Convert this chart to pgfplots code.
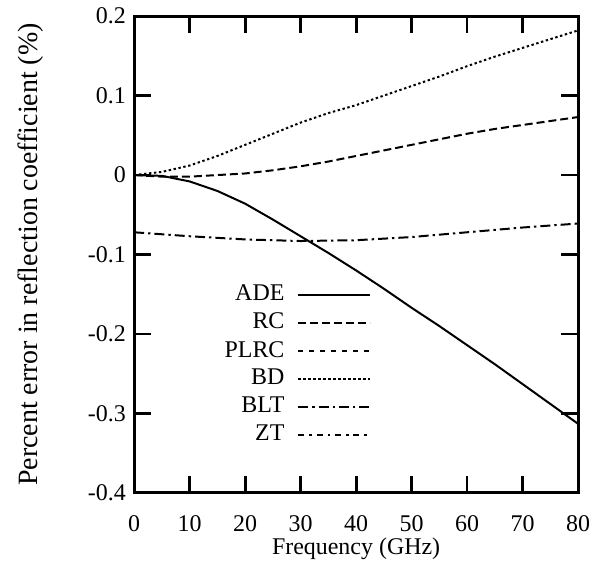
\documentclass[border=0pt]{standalone}
\usepackage{fontspec}
\setmainfont{Liberation Serif}
\newfontfamily\tnr{Liberation Serif}
\usepackage{pgfplots}
\pgfplotsset{compat=1.18}

\begin{document}
\tnr\fontsize{12}{14.4}\selectfont
\begin{tikzpicture}
\begin{axis}[
  scale only axis,
  width=222.5pt,
  height=239pt,
  xmin=0, xmax=80,
  ymin=-0.4, ymax=0.2,
  xtick={0,10,...,80},
  ytick={-0.4,-0.3,-0.2,-0.1,0,0.1,0.2},
  yticklabels={-0.4,-0.3,-0.2,-0.1,0,0.1,0.2},
  xticklabels={0,10,20,30,40,50,60,70,80},
  tick align=inside,
  major tick length=8.5pt,
  tick style={line width=1.4pt, black},
  axis line style={line width=1.5pt},
  ticklabel style={font=\tnr\fontsize{12}{14.4}\selectfont},
  label style={font=\tnr\fontsize{12}{14.4}\selectfont},
  xticklabel style={yshift=-7pt},
  xlabel={Frequency (GHz)},
  ylabel={Percent error in reflection coefficient (\%)},
  xlabel style={yshift=5pt},
  ylabel style={yshift=14pt, font=\tnr\fontsize{14}{16.8}\selectfont},
  legend plot pos=right,
  legend cell align=right,
  legend style={draw=none, fill=none, at={(0.535,0.445)}, anchor=north east,
    font=\tnr\fontsize{12}{14.4}\selectfont, row sep=0.3pt, column sep=4.5pt,
    inner sep=0pt},
  legend image code/.code={\draw[#1] (0pt,0pt) -- (36pt,0pt);},
  every axis plot/.append style={line width=1pt, black},
]
% ADE
\addplot[solid] coordinates {
(0,0) (5,-0.001) (10,-0.008) (15,-0.02) (20,-0.036) (25,-0.056) (30,-0.077)
(35,-0.098) (40,-0.12) (45,-0.143) (50,-0.167) (55,-0.19) (60,-0.214)
(65,-0.238) (70,-0.263) (75,-0.288) (80,-0.313)};
\addlegendentry{ADE}
% RC
\addplot[dash pattern=on 4pt off 2pt] coordinates {
(0,0) (5,-0.002) (10,-0.002) (15,0) (20,0.002) (25,0.006) (30,0.011)
(35,0.017) (40,0.024) (45,0.031) (50,0.038) (55,0.045) (60,0.052)
(65,0.058) (70,0.063) (75,0.068) (80,0.073)};
\addlegendentry{RC}
\addlegendimage{black, line width=1pt, dash pattern=on 2.5pt off 3pt}
\addlegendentry{PLRC}
% BD
\addplot[dash pattern=on 1.2pt off 1.3pt] coordinates {
(0,0) (5,0.004) (10,0.012) (15,0.024) (20,0.038) (25,0.052) (30,0.066)
(35,0.078) (40,0.088) (45,0.1) (50,0.112) (55,0.124) (60,0.137)
(65,0.149) (70,0.16) (75,0.171) (80,0.182)};
\addlegendentry{BD}
% BLT
\addplot[dash pattern=on 5pt off 2pt on 1.2pt off 2pt] coordinates {
(0,-0.072) (10,-0.077) (20,-0.081) (30,-0.083) (40,-0.082) (50,-0.078)
(60,-0.072) (70,-0.066) (80,-0.061)};
\addlegendentry{BLT}
\addlegendimage{black, line width=1pt, dash pattern=on 3pt off 2.5pt on 1.2pt off 2.5pt}
\addlegendentry{ZT}
\end{axis}
\path ([xshift=6.5pt]current axis.outer east) ([xshift=-5pt]current axis.outer west)
  ([yshift=-6pt]current axis.outer south);
\end{tikzpicture}
\end{document}
